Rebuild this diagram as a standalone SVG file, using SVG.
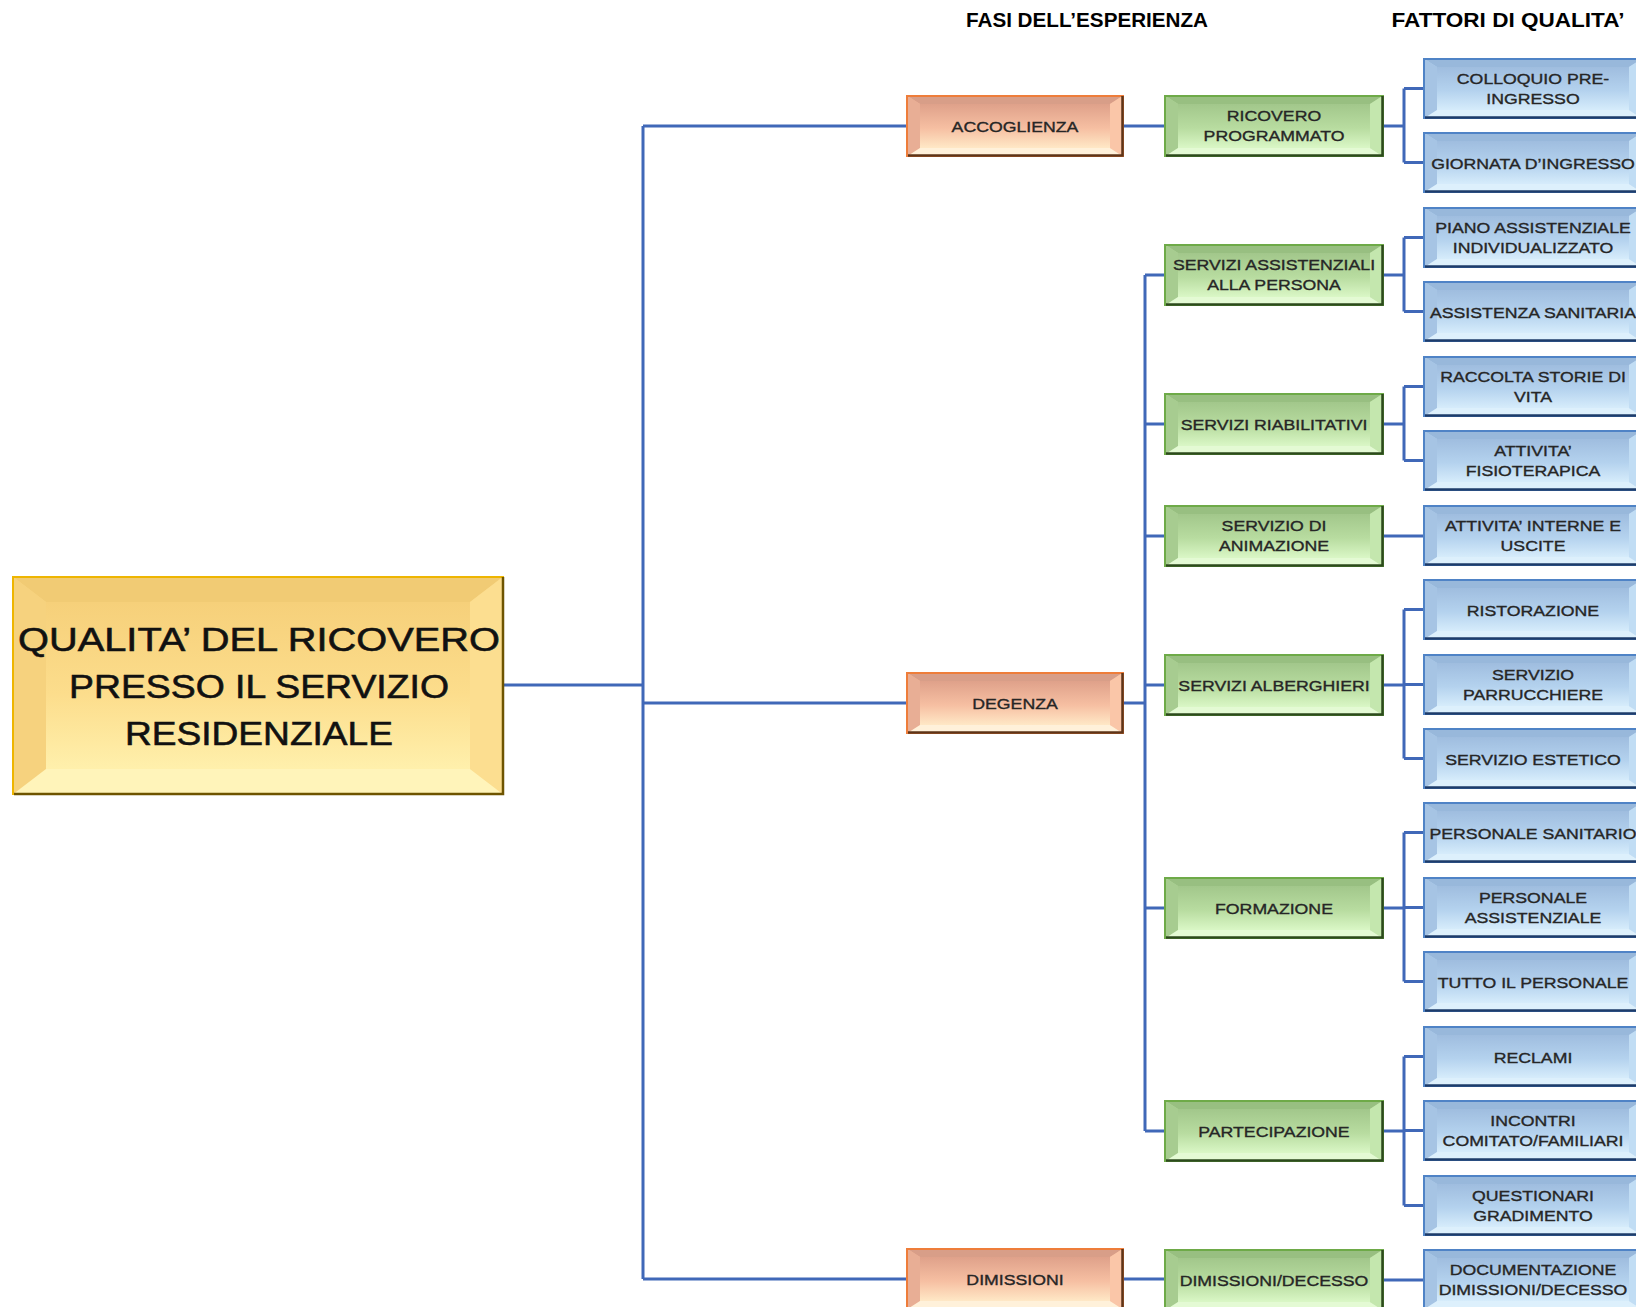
<svg xmlns="http://www.w3.org/2000/svg" xmlns:xlink="http://www.w3.org/1999/xlink" width="1636" height="1307" viewBox="0 0 1636 1307">
<style>
.t{font-family:"Liberation Sans",Arial,sans-serif;font-size:15px;fill:#262626;stroke:#262626;stroke-width:0.35;text-anchor:middle}
.root{font-family:"Liberation Sans",Arial,sans-serif;font-size:33.5px;fill:#111;stroke:#111;stroke-width:0.6;text-anchor:middle}
.hd{font-family:"Liberation Sans",Arial,sans-serif;font-size:20px;font-weight:bold;fill:#000;text-anchor:middle}
.c{fill:none;stroke:#4068B8;stroke-width:3}
</style>
<defs>
<linearGradient id="go" x1="0" y1="0" x2="0" y2="1"><stop offset="0" stop-color="#DFA18A"/><stop offset="0.55" stop-color="#F6BFA2"/><stop offset="1" stop-color="#FFE8C6"/></linearGradient>
<linearGradient id="gg" x1="0" y1="0" x2="0" y2="1"><stop offset="0" stop-color="#A2C78B"/><stop offset="0.55" stop-color="#B8DCA0"/><stop offset="1" stop-color="#DAF7C6"/></linearGradient>
<linearGradient id="gb" x1="0" y1="0" x2="0" y2="1"><stop offset="0" stop-color="#9FBDDF"/><stop offset="0.55" stop-color="#B4D2EE"/><stop offset="1" stop-color="#D6ECFB"/></linearGradient>
<linearGradient id="gr" x1="0" y1="0" x2="0" y2="1"><stop offset="0" stop-color="#F6D07A"/><stop offset="0.55" stop-color="#FCDD8C"/><stop offset="1" stop-color="#FFF0AC"/></linearGradient>
<g id="bev-o">
<rect x="0" y="0" width="218" height="62" fill="#F2B898"/>
<path d="M0,0 H218 L204,9 H14 Z" fill="#D89E88"/>
<path d="M0,0 L14,9 V53 L0,62 Z" fill="#E8AE95"/>
<path d="M218,0 V62 L204,53 V9 Z" fill="#FAC6A8"/>
<path d="M0,62 L14,53 H204 L218,62 Z" fill="#FFF1DA"/>
<rect x="14" y="9" width="190" height="44" fill="url(#go)"/>
<rect x="1" y="1" width="216" height="60" fill="none" stroke="#EE7D3A" stroke-width="2"/>
<path d="M216.5,1 V60.5 H2" fill="none" stroke="#5E3519" stroke-width="2.5"/>
</g>
<g id="bev-g">
<rect x="0" y="0" width="220" height="62" fill="#B5D89E"/>
<path d="M0,0 H220 L206,9 H14 Z" fill="#98BF81"/>
<path d="M0,0 L14,9 V53 L0,62 Z" fill="#A7CC90"/>
<path d="M220,0 V62 L206,53 V9 Z" fill="#C4E7AE"/>
<path d="M0,62 L14,53 H206 L220,62 Z" fill="#E4FAD4"/>
<rect x="14" y="9" width="192" height="44" fill="url(#gg)"/>
<rect x="1" y="1" width="218" height="60" fill="none" stroke="#6EAA48" stroke-width="2"/>
<path d="M218.5,1 V60.5 H2" fill="none" stroke="#2C4A1C" stroke-width="2.5"/>
</g>
<g id="bev-b">
<rect x="0" y="0" width="220" height="61" fill="#B1CFEC"/>
<path d="M0,0 H220 L206,9 H14 Z" fill="#98B8DB"/>
<path d="M0,0 L14,9 V52 L0,61 Z" fill="#A6C4E4"/>
<path d="M220,0 V61 L206,52 V9 Z" fill="#C1DDF4"/>
<path d="M0,61 L14,52 H206 L220,61 Z" fill="#DDF0FC"/>
<rect x="14" y="9" width="192" height="43" fill="url(#gb)"/>
<rect x="1" y="1" width="218" height="59" fill="none" stroke="#4F83C6" stroke-width="2"/>
<path d="M218.5,1 V59.5 H2" fill="none" stroke="#1E3C6A" stroke-width="2.5"/>
</g>
</defs>
<rect width="1636" height="1307" fill="#FFFFFF"/>

<text class="hd" x="1087" y="27" textLength="242" lengthAdjust="spacingAndGlyphs">FASI DELL’ESPERIENZA</text>
<text class="hd" x="1508" y="27" textLength="233" lengthAdjust="spacingAndGlyphs">FATTORI DI QUALITA’</text>

<g id="connectors">
<path class="c" d="M504,685 H643 M643,126 V1279 M643,126 H906 M643,703 H906 M643,1279 H906"/>
<path class="c" d="M1124,126 H1164 M1124,1279 H1164"/>
<path class="c" d="M1124,703 H1145 M1145,275 V1131 M1145,275 H1164 M1145,424 H1164 M1145,536 H1164 M1145,685 H1164 M1145,908 H1164 M1145,1131 H1164"/>
<path class="c" d="M1384,126 H1404 M1404,88.5 V162.5 M1404,88.5 H1423 M1404,162.5 H1423"/>
<path class="c" d="M1384,275 H1404 M1404,237.5 V311.5 M1404,237.5 H1423 M1404,311.5 H1423"/>
<path class="c" d="M1384,424 H1404 M1404,386.5 V460.5 M1404,386.5 H1423 M1404,460.5 H1423"/>
<path class="c" d="M1384,536 H1423"/>
<path class="c" d="M1384,685 H1404 M1404,609.5 V758.5 M1404,609.5 H1423 M1404,684.5 H1423 M1404,758.5 H1423"/>
<path class="c" d="M1384,908 H1404 M1404,832.5 V981.5 M1404,832.5 H1423 M1404,907.5 H1423 M1404,981.5 H1423"/>
<path class="c" d="M1384,1131 H1404 M1404,1056.5 V1205.5 M1404,1056.5 H1423 M1404,1130.5 H1423 M1404,1205.5 H1423"/>
<path class="c" d="M1384,1280 H1423"/>
</g>

<g id="n-root">
<rect x="12" y="576" width="492" height="219" fill="#FAD680"/>
<path d="M12,576 H504 L470,602 H46 Z" fill="#F1CB74"/>
<path d="M12,576 L46,602 V769 L12,795 Z" fill="#F6D27E"/>
<path d="M504,576 V795 L470,769 V602 Z" fill="#FCDE90"/>
<path d="M12,795 L46,769 H470 L504,795 Z" fill="#FFF4BA"/>
<rect x="46" y="602" width="424" height="167" fill="url(#gr)"/>
<rect x="13" y="577" width="490" height="217" fill="none" stroke="#EEB500" stroke-width="2"/>
<path d="M503,577 V794 H14" fill="none" stroke="#6E5400" stroke-width="2.5"/>
<text class="root" x="259" y="651" textLength="482" lengthAdjust="spacingAndGlyphs">QUALITA’  DEL RICOVERO</text>
<text class="root" x="259" y="698" textLength="380" lengthAdjust="spacingAndGlyphs">PRESSO IL SERVIZIO</text>
<text class="root" x="259" y="745" textLength="268" lengthAdjust="spacingAndGlyphs">RESIDENZIALE</text>
</g>

<g id="n-accoglienza"><use href="#bev-o" x="906" y="95"/><text class="t" transform="translate(1015 126) scale(1.18 1)" y="5.5">ACCOGLIENZA</text></g>
<g id="n-degenza"><use href="#bev-o" x="906" y="672"/><text class="t" transform="translate(1015 703) scale(1.18 1)" y="5.5">DEGENZA</text></g>
<g id="n-dimissioni"><use href="#bev-o" x="906" y="1248"/><text class="t" transform="translate(1015 1279) scale(1.18 1)" y="5.5">DIMISSIONI</text></g>

<g id="n-ricovero"><use href="#bev-g" x="1164" y="95"/><text class="t" transform="translate(1274 126) scale(1.18 1)"><tspan x="0" y="-5">RICOVERO</tspan><tspan x="0" y="15.5">PROGRAMMATO</tspan></text></g>
<g id="n-servizi-assistenziali"><use href="#bev-g" x="1164" y="244"/><text class="t" transform="translate(1274 275) scale(1.18 1)"><tspan x="0" y="-5">SERVIZI ASSISTENZIALI</tspan><tspan x="0" y="15.5">ALLA PERSONA</tspan></text></g>
<g id="n-servizi-riabilitativi"><use href="#bev-g" x="1164" y="393"/><text class="t" transform="translate(1274 424) scale(1.18 1)" y="5.5">SERVIZI RIABILITATIVI</text></g>
<g id="n-animazione"><use href="#bev-g" x="1164" y="505"/><text class="t" transform="translate(1274 536) scale(1.18 1)"><tspan x="0" y="-5">SERVIZIO DI</tspan><tspan x="0" y="15.5">ANIMAZIONE</tspan></text></g>
<g id="n-alberghieri"><use href="#bev-g" x="1164" y="654"/><text class="t" transform="translate(1274 685) scale(1.18 1)" y="5.5">SERVIZI ALBERGHIERI</text></g>
<g id="n-formazione"><use href="#bev-g" x="1164" y="877"/><text class="t" transform="translate(1274 908) scale(1.18 1)" y="5.5">FORMAZIONE</text></g>
<g id="n-partecipazione"><use href="#bev-g" x="1164" y="1100"/><text class="t" transform="translate(1274 1131) scale(1.18 1)" y="5.5">PARTECIPAZIONE</text></g>
<g id="n-dimissioni-decesso"><use href="#bev-g" x="1164" y="1249"/><text class="t" transform="translate(1274 1280) scale(1.18 1)" y="5.5">DIMISSIONI/DECESSO</text></g>

<g id="n-colloquio"><use href="#bev-b" x="1423" y="58"/><text class="t" transform="translate(1533 88.5) scale(1.18 1)"><tspan x="0" y="-4.5">COLLOQUIO PRE-</tspan><tspan x="0" y="16">INGRESSO</tspan></text></g>
<g id="n-giornata"><use href="#bev-b" x="1423" y="132"/><text class="t" transform="translate(1533 162.5) scale(1.18 1)" y="6">GIORNATA D’INGRESSO</text></g>
<g id="n-piano"><use href="#bev-b" x="1423" y="207"/><text class="t" transform="translate(1533 237.5) scale(1.18 1)"><tspan x="0" y="-4.5">PIANO ASSISTENZIALE</tspan><tspan x="0" y="16">INDIVIDUALIZZATO</tspan></text></g>
<g id="n-assistenza-sanitaria"><use href="#bev-b" x="1423" y="281"/><text class="t" transform="translate(1533 311.5) scale(1.18 1)" y="6">ASSISTENZA SANITARIA</text></g>
<g id="n-raccolta"><use href="#bev-b" x="1423" y="356"/><text class="t" transform="translate(1533 386.5) scale(1.18 1)"><tspan x="0" y="-4.5">RACCOLTA STORIE DI</tspan><tspan x="0" y="16">VITA</tspan></text></g>
<g id="n-fisioterapica"><use href="#bev-b" x="1423" y="430"/><text class="t" transform="translate(1533 460.5) scale(1.18 1)"><tspan x="0" y="-4.5">ATTIVITA’</tspan><tspan x="0" y="16">FISIOTERAPICA</tspan></text></g>
<g id="n-attivita-interne"><use href="#bev-b" x="1423" y="505"/><text class="t" transform="translate(1533 535.5) scale(1.18 1)"><tspan x="0" y="-4.5">ATTIVITA’ INTERNE E</tspan><tspan x="0" y="16">USCITE</tspan></text></g>
<g id="n-ristorazione"><use href="#bev-b" x="1423" y="579"/><text class="t" transform="translate(1533 609.5) scale(1.18 1)" y="6">RISTORAZIONE</text></g>
<g id="n-parrucchiere"><use href="#bev-b" x="1423" y="654"/><text class="t" transform="translate(1533 684.5) scale(1.18 1)"><tspan x="0" y="-4.5">SERVIZIO</tspan><tspan x="0" y="16">PARRUCCHIERE</tspan></text></g>
<g id="n-estetico"><use href="#bev-b" x="1423" y="728"/><text class="t" transform="translate(1533 758.5) scale(1.18 1)" y="6">SERVIZIO ESTETICO</text></g>
<g id="n-personale-sanitario"><use href="#bev-b" x="1423" y="802"/><text class="t" transform="translate(1533 832.5) scale(1.18 1)" y="6">PERSONALE SANITARIO</text></g>
<g id="n-personale-assistenziale"><use href="#bev-b" x="1423" y="877"/><text class="t" transform="translate(1533 907.5) scale(1.18 1)"><tspan x="0" y="-4.5">PERSONALE</tspan><tspan x="0" y="16">ASSISTENZIALE</tspan></text></g>
<g id="n-tutto"><use href="#bev-b" x="1423" y="951"/><text class="t" transform="translate(1533 981.5) scale(1.18 1)" y="6">TUTTO IL PERSONALE</text></g>
<g id="n-reclami"><use href="#bev-b" x="1423" y="1026"/><text class="t" transform="translate(1533 1056.5) scale(1.18 1)" y="6">RECLAMI</text></g>
<g id="n-incontri"><use href="#bev-b" x="1423" y="1100"/><text class="t" transform="translate(1533 1130.5) scale(1.18 1)"><tspan x="0" y="-4.5">INCONTRI</tspan><tspan x="0" y="16">COMITATO/FAMILIARI</tspan></text></g>
<g id="n-questionari"><use href="#bev-b" x="1423" y="1175"/><text class="t" transform="translate(1533 1205.5) scale(1.18 1)"><tspan x="0" y="-4.5">QUESTIONARI</tspan><tspan x="0" y="16">GRADIMENTO</tspan></text></g>
<g id="n-documentazione"><use href="#bev-b" x="1423" y="1249"/><text class="t" transform="translate(1533 1279.5) scale(1.18 1)"><tspan x="0" y="-4.5">DOCUMENTAZIONE</tspan><tspan x="0" y="16">DIMISSIONI/DECESSO</tspan></text></g>
</svg>
